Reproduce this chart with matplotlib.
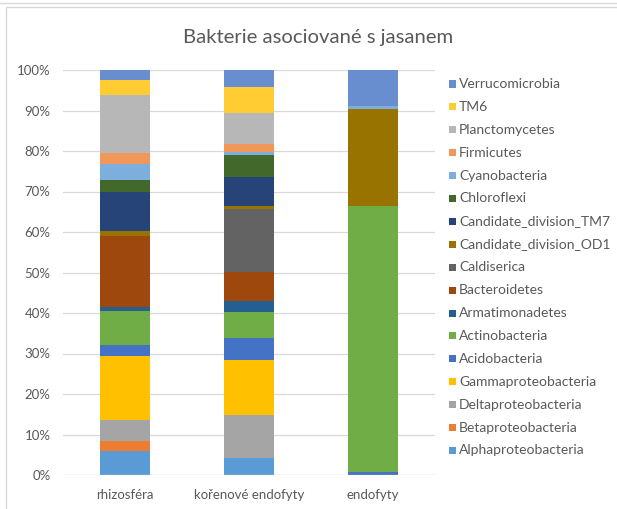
import matplotlib
matplotlib.use("Agg")
import matplotlib.pyplot as plt
from matplotlib.patches import Rectangle
import numpy as np

plt.rcParams['font.family'] = ['Lato', 'DejaVu Sans']

categories = ["rhizosféra", "kořenové endofyty", "endofyty"]

# series listed bottom-to-top in stacking order
series_names = [
    "Alphaproteobacteria", "Betaproteobacteria", "Deltaproteobacteria",
    "Gammaproteobacteria", "Acidobacteria", "Actinobacteria",
    "Armatimonadetes", "Bacteroidetes", "Caldiserica",
    "Candidate_division_OD1", "Candidate_division_TM7", "Chloroflexi",
    "Cyanobacteria", "Firmicutes", "Planctomycetes", "TM6", "Verrucomicrobia",
]

alphaproteobacteria = [5.85, 4.1, 0.0]
betaproteobacteria = [2.45, 0.0, 0.0]
deltaproteobacteria = [5.4, 10.6, 0.0]
gammaproteobacteria = [15.8, 13.7, 0.0]
acidobacteria = [2.6, 5.35, 0.8]
actinobacteria = [8.5, 6.45, 65.6]
armatimonadetes = [0.8, 2.8, 0.0]
bacteroidetes = [17.6, 7.1, 0.0]
caldiserica = [0.0, 15.7, 0.0]
candidate_division_od1 = [1.3, 0.6, 24.0]
candidate_division_tm7 = [9.6, 7.2, 0.0]
chloroflexi = [2.9, 5.5, 0.0]
cyanobacteria = [4.0, 0.7, 0.8]
firmicutes = [2.8, 1.9, 0.0]
planctomycetes = [14.3, 7.8, 0.0]
tm6 = [3.7, 6.4, 0.0]
verrucomicrobia = [2.4, 4.1, 8.8]

series_values = [
    alphaproteobacteria, betaproteobacteria, deltaproteobacteria,
    gammaproteobacteria, acidobacteria, actinobacteria, armatimonadetes,
    bacteroidetes, caldiserica, candidate_division_od1,
    candidate_division_tm7, chloroflexi, cyanobacteria, firmicutes,
    planctomycetes, tm6, verrucomicrobia,
]

colors = [
    "#5B9BD5", "#ED7D31", "#A5A5A5", "#FFC000", "#4472C4", "#70AD47",
    "#255E91", "#9E480E", "#636363", "#997300", "#264478", "#43682B",
    "#7CAFDD", "#F1975A", "#B7B7B7", "#FFCD33", "#698ED0",
]

W, H = 617, 509
fig = plt.figure(figsize=(W / 100, H / 100), dpi=100)
fig.patch.set_facecolor("white")

# surrounding frames
fig.add_artist(Rectangle((-0.01, (H - 3) / H), 1.02, 0.02, transform=fig.transFigure,
                         facecolor="none", edgecolor="#D9D9D9", linewidth=1.0))
fig.add_artist(Rectangle((6 / W, -0.01), 1.0, (H - 7) / H + 0.01, transform=fig.transFigure,
                         facecolor="none", edgecolor="#D9D9D9", linewidth=1.0))

ax = fig.add_axes([63 / W, 34 / H, (435 - 63) / W, (475 - 70) / H])

# normalize each column to 100 %
totals = np.sum(np.array(series_values), axis=0)
x = np.arange(len(categories))
bottom = np.zeros(len(categories))
for name, vals, col in zip(series_names, series_values, colors):
    v = np.array(vals) / totals * 100
    ax.bar(x, v, width=0.403, bottom=bottom, color=col, linewidth=0, zorder=3)
    bottom += v

ax.set_xlim(-0.5, 2.5)
ax.set_ylim(0, 100)
ax.set_yticks(np.arange(0, 101, 10))
ax.set_yticklabels([f"{t}%" for t in range(0, 101, 10)])
ax.set_xticks(x)
ax.set_xticklabels(categories)
ax.tick_params(axis="both", length=0, labelsize=9.5, colors="#595959")
ax.tick_params(axis="y", pad=9)
ax.tick_params(axis="x", pad=10)
ax.grid(axis="y", color="#D9D9D9", linewidth=0.9, zorder=0)
for s in ax.spines.values():
    s.set_visible(False)
ax.axhline(0, color="#D9D9D9", linewidth=0.9, zorder=4)

fig.text(318 / W, 1 - 38 / H, "Bakterie asociované s jasanem",
         ha="center", va="center", fontsize=14.6, color="#595959")

# legend, top entry is the last stacked series
n = len(series_names)
y0, dy = 84, 22.9
for i, idx in enumerate(range(n - 1, -1, -1)):
    yc = y0 + i * dy
    fig.add_artist(Rectangle((449 / W, 1 - (yc + 3.5) / H), 7 / W, 7 / H,
                             transform=fig.transFigure, facecolor=colors[idx],
                             edgecolor="none"))
    fig.text(459 / W, 1 - yc / H, series_names[idx], ha="left", va="center",
             fontsize=10, color="#595959")

fig.savefig("out.png", dpi=100)
